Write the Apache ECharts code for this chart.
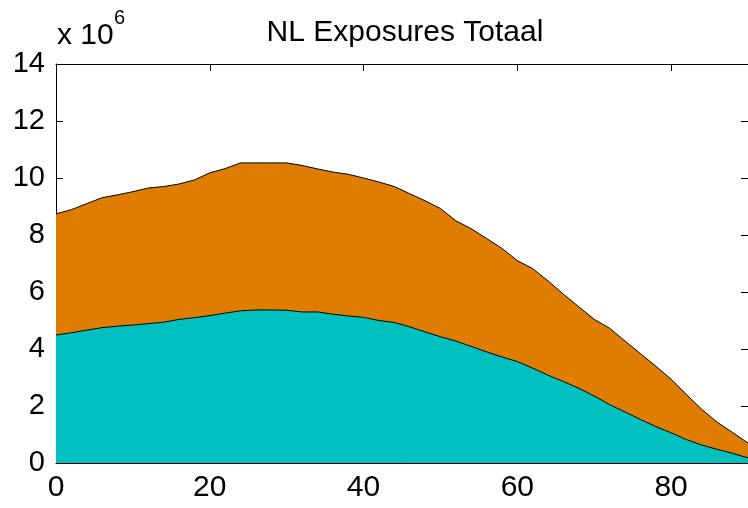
<!DOCTYPE html>
<html>
<head>
<meta charset="utf-8">
<script src="https://cdn.jsdelivr.net/npm/echarts@6/dist/echarts.min.js"></script>
<style>
html,body{margin:0;padding:0;background:#fff;}
#chart{width:748px;height:508px;}
</style>
</head>
<body>
<div id="chart"></div>
<script>
// ages (x categories)
const ages = [0,2,4,6,8,10,12,14,16,18,20,22,24,26,28,30,32,34,36,38,40,42,44,46,48,50,52,54,56,58,60,62,64,66,68,70,72,74,76,78,80,82,84,86,88,90];
// lower (cyan) layer, millions
const cyanValues = [4.49,4.57,4.66,4.75,4.80,4.84,4.89,4.94,5.04,5.10,5.17,5.26,5.34,5.37,5.37,5.36,5.30,5.30,5.22,5.16,5.11,5.00,4.93,4.78,4.60,4.43,4.28,4.09,3.90,3.72,3.56,3.33,3.08,2.86,2.62,2.35,2.05,1.79,1.53,1.28,1.06,0.82,0.63,0.48,0.34,0.18];
// upper (orange) layer, millions (stacked on cyan)
const orangeValues = [4.25,4.32,4.44,4.56,4.61,4.68,4.76,4.76,4.75,4.83,5.01,5.07,5.19,5.16,5.16,5.17,5.14,5.02,4.99,4.97,4.89,4.86,4.77,4.67,4.60,4.50,4.22,4.13,3.98,3.81,3.54,3.49,3.31,3.06,2.86,2.69,2.68,2.49,2.31,2.12,1.88,1.58,1.25,0.95,0.73,0.52];
const xTicks = [0,20,40,60,80];
const yTicks = [0,2,4,6,8,10,12,14];
const titleText = 'NL Exposures Totaal';
const scaleBase = 'x 10';
const scaleExp = '6';

const chart = echarts.init(document.getElementById('chart'), null, {renderer:'canvas'});
const font = 'Liberation Sans, Arial, Helvetica, sans-serif';
const gridL = 56, gridT = 64, gridW = 693, gridH = 399;
const cats = ages.map(String);
const isTick = (idx)=> xTicks.includes(ages[idx]);

const lineCommon = {show:true, onZero:false, lineStyle:{color:'#000', width:1}};
const tickY = {show:true, inside:true, length:7, lineStyle:{color:'#000', width:1}};

chart.setOption({
  animation:false,
  backgroundColor:'#fff',
  title:{
    text:titleText, left:400, textAlign:'center', top:13,
    textStyle:{fontFamily:font, fontSize:30, fontWeight:'normal', color:'#000'}
  },
  graphic:[
    {type:'text', left:57, top:21,
     style:{text:scaleBase, fontFamily:font, fontSize:30, fill:'#000'}},
    {type:'text', left:114, top:8,
     style:{text:scaleExp, fontFamily:font, fontSize:20, fill:'#000'}}
  ],
  grid:{left:gridL, top:gridT, width:gridW, height:gridH, containLabel:false},
  xAxis:[
    {
      type:'category', data:cats, boundaryGap:false, position:'bottom',
      axisLine:lineCommon,
      axisTick:{show:true, inside:true, length:7, interval:(i)=>isTick(i), lineStyle:{color:'#000', width:1}},
      axisLabel:{show:true, interval:(i)=>isTick(i), margin:10, fontFamily:font, fontSize:30, color:'#000'},
      splitLine:{show:false}
    },
    {
      type:'category', data:cats, boundaryGap:false, position:'top',
      axisLine:lineCommon,
      axisTick:{show:true, inside:true, length:7, interval:(i)=>isTick(i), lineStyle:{color:'#000', width:1}},
      axisLabel:{show:false},
      splitLine:{show:false}
    }
  ],
  yAxis:[
    {
      type:'value', min:0, max:14, interval:2, position:'left',
      axisLine:lineCommon, axisTick:tickY, splitLine:{show:false},
      axisLabel:{show:true, margin:11, fontFamily:font, fontSize:29, color:'#000',
        formatter:v=> yTicks.includes(v)? String(v) : ''}
    },
    {
      type:'value', min:0, max:14, interval:2, position:'right',
      axisLine:lineCommon, axisTick:tickY, splitLine:{show:false},
      axisLabel:{show:false}
    }
  ],
  series:[
    {
      name:'cyan', type:'line', stack:'total', data:cyanValues,
      symbol:'none', smooth:false, z:2,
      lineStyle:{color:'#000', width:1},
      areaStyle:{color:'#00C0C0', opacity:1}
    },
    {
      name:'orange', type:'line', stack:'total', data:orangeValues,
      symbol:'none', smooth:false, z:1,
      lineStyle:{color:'#000', width:1},
      areaStyle:{color:'#DF7D00', opacity:1}
    }
  ]
});
</script>
</body>
</html>
